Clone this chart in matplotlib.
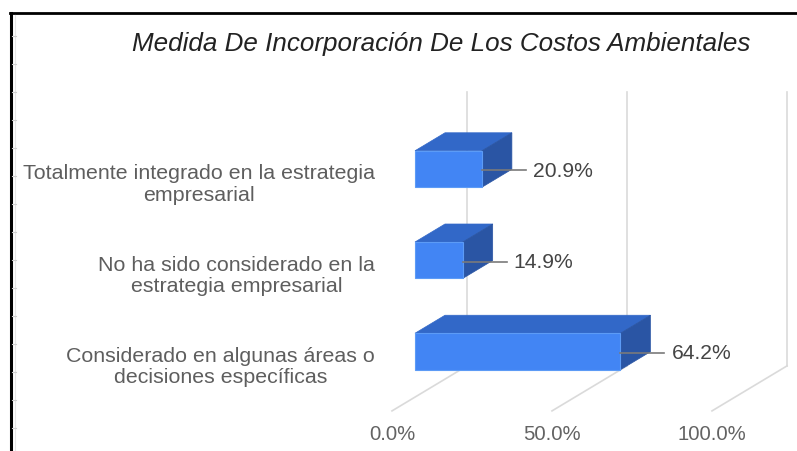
import matplotlib
matplotlib.use("Agg")
import matplotlib.pyplot as plt
from matplotlib.patches import Polygon
from matplotlib.lines import Line2D

plt.rcParams['font.family'] = ['Liberation Sans', 'DejaVu Sans']

# ---- data ----
categories = ["Totalmente integrado en la estrategia\nempresarial",
              "No ha sido considerado en la\nestrategia empresarial",
              "Considerado en algunas áreas o\ndecisiones específicas"]
values = [20.9, 14.9, 64.2]
value_labels = ["20.9%", "14.9%", "64.2%"]
ticks = [0, 50, 100]
tick_labels = ["0.0%", "50.0%", "100.0%"]
title = "Medida De Incorporación De Los Costos Ambientales"

# ---- styling ----
W, H = 797, 452
FRONT = "#4285F4"
TOP = "#3268C8"
SIDE = "#2A55A4"
GRID = "#DADADA"
SLOPE = 0.6

fig = plt.figure(figsize=(W / 100, H / 100), dpi=100)
ax_left, ax_bottom_px, ax_w, ax_h = 415, 398.1, 320, 273.7
ax = fig.add_axes([ax_left / W, (H - ax_bottom_px) / H, ax_w / W, ax_h / H])
ax.set_xlim(0, 100)
ax.set_ylim(-0.5, 2.5)
ax.axis('off')

px_x = 100 / ax_w
px_y = 3 / ax_h


def sh(d):
    """data-unit offset for a depth of d pixels"""
    return d * px_x, d * SLOPE * px_y


ypos = list(range(len(categories)))[::-1]
y0, y1 = -0.5, 2.5
d_front, d_back = -23, 52

# back wall gridlines + floor lines
fx, fy = sh(d_front)
bx, by = sh(d_back)
for t in ticks:
    ax.add_line(Line2D([t + bx, t + bx], [y0 + by, y1 + by], color=GRID, lw=1.2,
                       zorder=1, clip_on=False))
    ax.add_line(Line2D([t + fx, t + bx], [y0 + fy, y0 + by], color=GRID, lw=1.2,
                       zorder=1, clip_on=False))

# bars
bh = 0.4
dx, dy = sh(30)
for v, y in zip(values, ypos):
    top = Polygon([(0, y + bh / 2), (v, y + bh / 2), (v + dx, y + bh / 2 + dy),
                   (dx, y + bh / 2 + dy)], closed=True, facecolor=TOP,
                  edgecolor=TOP, lw=0.5, zorder=3, clip_on=False)
    side = Polygon([(v, y - bh / 2), (v, y + bh / 2), (v + dx, y + bh / 2 + dy),
                    (v + dx, y - bh / 2 + dy)], closed=True, facecolor=SIDE,
                   edgecolor=SIDE, lw=0.5, zorder=3, clip_on=False)
    ax.add_patch(top)
    ax.add_patch(side)
ax.barh(ypos, values, height=bh, left=0, color=FRONT, edgecolor="#5C9BF6",
        linewidth=0.8, zorder=4, clip_on=False)

# data labels with leader lines
for v, y, lab in zip(values, ypos, value_labels):
    ax.add_line(Line2D([v, v + 44 * px_x], [y - 0.015, y - 0.015], color="#7A7A7A",
                       lw=1.2, zorder=5, clip_on=False))
    ax.text(v + 51 * px_x, y - 0.015, lab, ha='left', va='center', fontsize=15.2,
            color="#444444", zorder=6, clip_on=False)

# category labels
for cat, y in zip(categories, ypos):
    ax.text(-40 * px_x, y - 14.5 * px_y, cat, ha='right', va='center',
            multialignment='center', fontsize=15.4, color="#5E5E5E",
            linespacing=1.15, clip_on=False)

# tick labels
for t, lab in zip(ticks, tick_labels):
    ax.text(t + fx, y0 + fy - 23 * px_y, lab, ha='center', va='center',
            fontsize=14.6, color="#636363", clip_on=False)

# title
fig.text(441 / W, 1 - 44 / H, title, ha='center', va='center', fontsize=18.7,
         style='italic', color="#222222")

# page border decoration
fig.add_artist(Line2D([10.5 / W, 10.5 / W], [0, 1 - 14 / H], color='black', lw=2.2,
                      transform=fig.transFigure))
fig.add_artist(Line2D([10 / W, 1], [1 - 14 / H, 1 - 14 / H], color='black', lw=2,
                      transform=fig.transFigure))
fig.add_artist(Line2D([15 / W, 15 / W], [0, 1 - 16 / H], color='#E6E6E6', lw=0.8,
                      transform=fig.transFigure))
for k in range(15):
    yy = 1 - (37 + 28 * k) / H
    fig.add_artist(Line2D([12 / W, 16 / W], [yy, yy], color='#D0D0D0', lw=0.8,
                          transform=fig.transFigure))

fig.savefig("out.png", dpi=100)
